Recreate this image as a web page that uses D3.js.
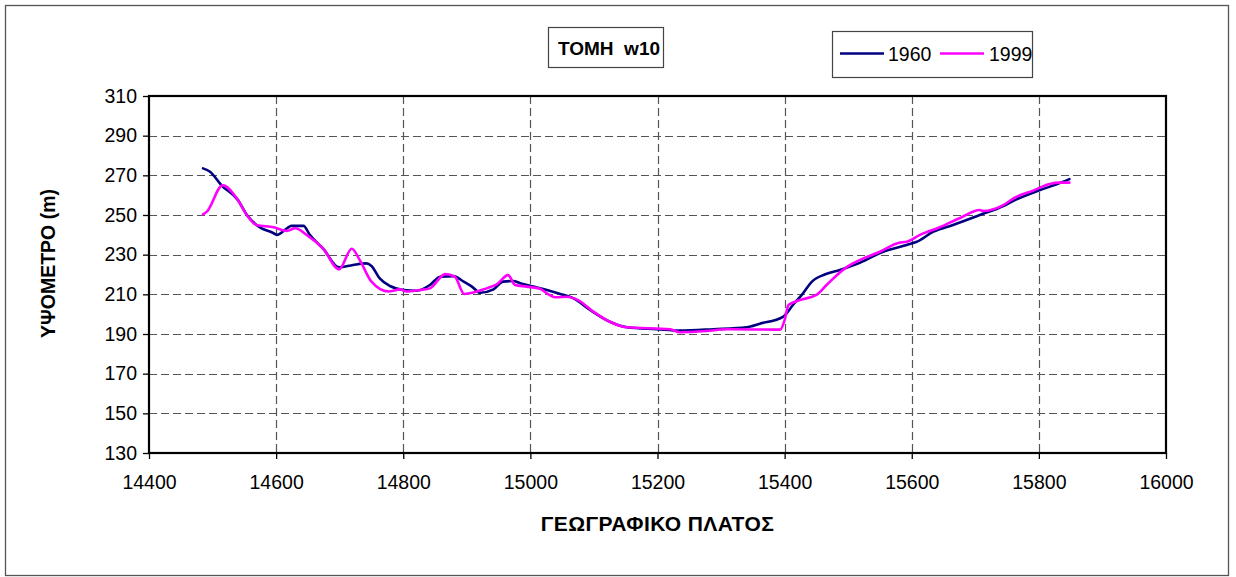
<!DOCTYPE html>
<html>
<head>
<meta charset="utf-8">
<script src="https://cdn.jsdelivr.net/npm/d3@7"></script>
<style>
  html, body { margin: 0; padding: 0; background: #fff; }
  svg { display: block; font-family: Arial, "Liberation Sans", sans-serif; }
</style>
</head>
<body>
<svg id="chart" width="1236" height="577"></svg>
<script>
// ---- data ----
const chartTitle = "ΤΟΜΗ  w10";
const xTitle = "ΓΕΩΓΡΑΦΙΚΟ ΠΛΑΤΟΣ";
const yTitle = "ΥΨΟΜΕΤΡΟ (m)";
const seriesNames = ["1960", "1999"];
const xTicks = [14400, 14600, 14800, 15000, 15200, 15400, 15600, 15800, 16000];
const yTicks = [130, 150, 170, 190, 210, 230, 250, 270, 290, 310];

const x1960 = [14485,14496,14514,14540,14554,14569,14596,14601,14617,14624,14643,14653,14674,14699,14721,14742,14750,14763,14779,14800,14821,14842,14858,14879,14895,14908,14921,14942,14957,14973,14984,15005,15026,15047,15068,15094,15125,15152,15199,15235,15288,15340,15361,15398,15414,15427,15443,15464,15487,15519,15555,15592,15608,15634,15665,15707,15744,15760,15802,15828,15848];
const y1960 = [273.5,271.8,265,257.5,250,245,240.8,240,243.3,244.5,244.5,240,233,223.6,224.8,225.6,224.3,218,214.2,212.2,211.8,214.7,218.9,219.2,216.4,213.9,210.8,212.5,216.4,216.7,215.6,213.9,212.2,210.2,208,202.1,196.2,193.4,192.4,191.7,192.4,193.4,195.2,198.8,205,209.7,216.4,220.1,222.3,226,231.5,234.9,236.5,241.6,245,250,254.5,257.2,262.6,265.5,268.1];

const x1999 = [14485,14491,14516,14538,14554,14569,14596,14617,14630,14648,14674,14699,14719,14732,14750,14777,14795,14805,14826,14842,14866,14881,14896,14931,14947,14965,14976,14994,15015,15026,15041,15057,15075,15099,15125,15152,15220,15235,15277,15309,15393,15400,15406,15424,15450,15466,15495,15513,15550,15580,15592,15613,15644,15676,15707,15712,15744,15762,15791,15817,15833,15848];
const y1999 = [250.3,251.7,265,258.4,250,245,243.8,242,243.3,240,233,222.6,233,227,216.4,211.4,212.5,211.4,212.2,213,220.2,218.9,210.2,213,215,219.7,214.7,213.9,212.8,210.5,208.5,208.8,207.1,201.3,196.2,193.4,192.4,190.9,191.5,192.4,192.2,197,204.6,207.1,209.7,214.7,223.1,226.5,231.5,236,236.5,240,243.8,248.5,252.5,252,255,258.7,262.3,265.6,266.3,266.3];

const seriesColors = ["#000080", "#FF00FF"];

// ---- layout ----
const svg = d3.select("#chart");
const W = 1236, H = 577;
const plot = { left: 149, right: 1166, top: 96, bottom: 453 };

svg.append("rect").attr("x", 0).attr("y", 0).attr("width", W).attr("height", H).attr("fill", "#fff");
svg.append("rect").attr("x", 5.5).attr("y", 5.5).attr("width", 1223).attr("height", 570)
  .attr("fill", "none").attr("stroke", "#555").attr("stroke-width", 1.3);

const x = d3.scaleLinear().domain([14400, 16000]).range([plot.left, plot.right]);
const y = d3.scaleLinear().domain([130, 310]).range([plot.bottom, plot.top]);

// gridlines
const grid = svg.append("g").attr("stroke", "#555").attr("stroke-width", 1.2).attr("stroke-dasharray", "8,4");
grid.selectAll("line.h").data(yTicks.filter(t => t > 130 && t < 310)).join("line")
  .attr("x1", plot.left).attr("x2", plot.right)
  .attr("y1", d => Math.round(y(d)) + 0.5).attr("y2", d => Math.round(y(d)) + 0.5);
grid.selectAll("line.v").data(xTicks.filter(t => t > 14400 && t < 16000)).join("line")
  .attr("y1", plot.top).attr("y2", plot.bottom)
  .attr("x1", d => Math.round(x(d)) + 0.5).attr("x2", d => Math.round(x(d)) + 0.5);

// plot border
svg.append("rect").attr("x", plot.left).attr("y", plot.top)
  .attr("width", plot.right - plot.left).attr("height", plot.bottom - plot.top)
  .attr("fill", "none").attr("stroke", "#000").attr("stroke-width", 2.2);

// axes
const yAxis = d3.axisLeft(y).tickValues(yTicks).tickSize(6).tickPadding(6).tickFormat(d3.format("d"));
const gy = svg.append("g").attr("transform", `translate(${plot.left},0)`).call(yAxis);
gy.select(".domain").remove();
gy.selectAll("line").attr("stroke", "#000").attr("stroke-width", 1.3);
gy.selectAll("text").attr("font-size", 19.5).attr("fill", "#000").attr("font-family", "Arial, 'Liberation Sans', sans-serif");

const xAxis = d3.axisBottom(x).tickValues(xTicks).tickSize(6).tickPadding(16).tickFormat(d3.format("d"));
const gx = svg.append("g").attr("transform", `translate(0,${plot.bottom})`).call(xAxis);
gx.select(".domain").remove();
gx.selectAll("line").attr("stroke", "#000").attr("stroke-width", 1.3);
gx.selectAll("text").attr("font-size", 19.5).attr("fill", "#000").attr("font-family", "Arial, 'Liberation Sans', sans-serif");

// lines
const lineGen = d3.line().x(d => x(d[0])).y(d => y(d[1])).curve(d3.curveMonotoneX);
const data1960 = x1960.map((v, i) => [v, y1960[i]]);
const data1999 = x1999.map((v, i) => [v, y1999[i]]);
[data1960, data1999].forEach((dat, i) => {
  svg.append("path").datum(dat).attr("d", lineGen)
    .attr("fill", "none").attr("stroke", seriesColors[i]).attr("stroke-width", 2.6)
    .attr("stroke-linejoin", "round").attr("stroke-linecap", "round");
});

// titles
svg.append("rect").attr("x", 548.5).attr("y", 27.5).attr("width", 115).attr("height", 40)
  .attr("fill", "#fff").attr("stroke", "#444").attr("stroke-width", 1.2);
svg.append("text").attr("x", 609).attr("y", 55).attr("text-anchor", "middle")
  .attr("font-size", 19).attr("font-weight", "bold").attr("xml:space", "preserve")
  .style("white-space", "pre").text(chartTitle);

svg.append("text").attr("x", (plot.left + plot.right) / 2).attr("y", 531).attr("text-anchor", "middle")
  .attr("font-size", 21).attr("font-weight", "bold").attr("letter-spacing", 0.4).text(xTitle);

svg.append("text").attr("transform", `translate(55,${(plot.top + plot.bottom) / 2 - 11}) rotate(-90)`)
  .attr("text-anchor", "middle").attr("font-size", 19.5).attr("font-weight", "bold").text(yTitle);

// legend
const lg = svg.append("g");
lg.append("rect").attr("x", 832.5).attr("y", 31.5).attr("width", 200).attr("height", 46)
  .attr("fill", "#fff").attr("stroke", "#444").attr("stroke-width", 1.2);
const legendPos = [{lx: 840, tx: 888}, {lx: 940, tx: 989}];
seriesNames.forEach((name, i) => {
  lg.append("line").attr("x1", legendPos[i].lx).attr("x2", legendPos[i].lx + 44)
    .attr("y1", 53.5).attr("y2", 53.5).attr("stroke", seriesColors[i]).attr("stroke-width", 2.6);
  lg.append("text").attr("x", legendPos[i].tx).attr("y", 61).attr("font-size", 19.5)
    .attr("fill", "#000").text(name);
});
</script>
</body>
</html>
